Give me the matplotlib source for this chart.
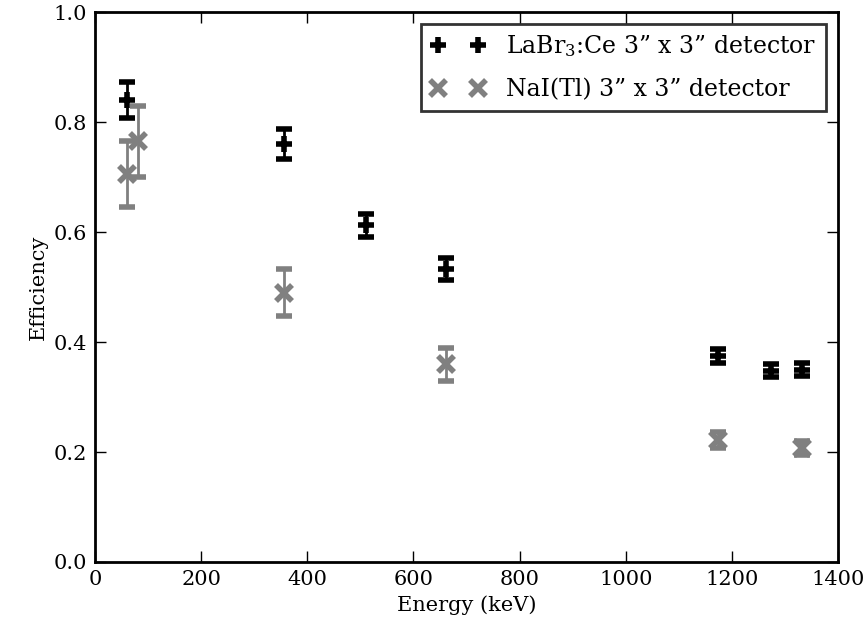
from matplotlib import pyplot as plt
from matplotlib.lines import Line2D

plt.rcParams['font.family'] = ['DejaVu Serif']
plt.rcParams['mathtext.fontset'] = 'dejavuserif'

# LaBr3:Ce data
e_labr = [59.5, 356, 511, 662, 1173, 1274, 1332]
eff_labr = [0.840, 0.760, 0.612, 0.532, 0.375, 0.348, 0.350]
err_labr = [0.033, 0.027, 0.021, 0.020, 0.013, 0.012, 0.012]

# NaI(Tl) data
e_nai = [59.5, 81, 356, 662, 1173, 1332]
eff_nai = [0.705, 0.765, 0.490, 0.360, 0.222, 0.207]
err_nai = [0.060, 0.065, 0.042, 0.030, 0.015, 0.013]

lab_labr = 'LaBr$_3$:Ce 3\u201d x 3\u201d detector'
lab_nai = 'NaI(Tl) 3\u201d x 3\u201d detector'

fig = plt.figure(figsize=(8.67, 6.32), dpi=100)
ax = fig.add_axes([0.1096, 0.1108, 0.857, 0.870])

ax.errorbar(e_labr, eff_labr, yerr=err_labr, fmt='+', color='black', ms=11, mew=4,
            elinewidth=2, capsize=6, capthick=3.5)
ax.errorbar(e_nai, eff_nai, yerr=err_nai, fmt='x', color='gray', ms=11, mew=4,
            elinewidth=2, capsize=6, capthick=3.5)

ax.set_xlim(0, 1400)
ax.set_ylim(0, 1.0)
ax.set_xlabel('Energy (keV)', fontsize=15)
ax.set_ylabel('Efficiency', fontsize=15)
ax.tick_params(direction='in', length=8, width=1, labelsize=15, top=True, right=True, pad=6)
for s in ax.spines.values():
    s.set_linewidth(2)

h1 = Line2D([], [], ls='none', marker='+', color='black', ms=11, mew=4)
h2 = Line2D([], [], ls='none', marker='x', color='gray', ms=11, mew=4)
leg = ax.legend([h1, h2], [lab_labr, lab_nai], loc='upper right', numpoints=2, fontsize=17,
                fancybox=False, handlelength=2.3, handletextpad=0.9, borderaxespad=0.5,
                labelspacing=0.8, borderpad=0.4)
leg.get_frame().set_edgecolor('black')
leg.get_frame().set_linewidth(2)

fig.savefig('out.png')
